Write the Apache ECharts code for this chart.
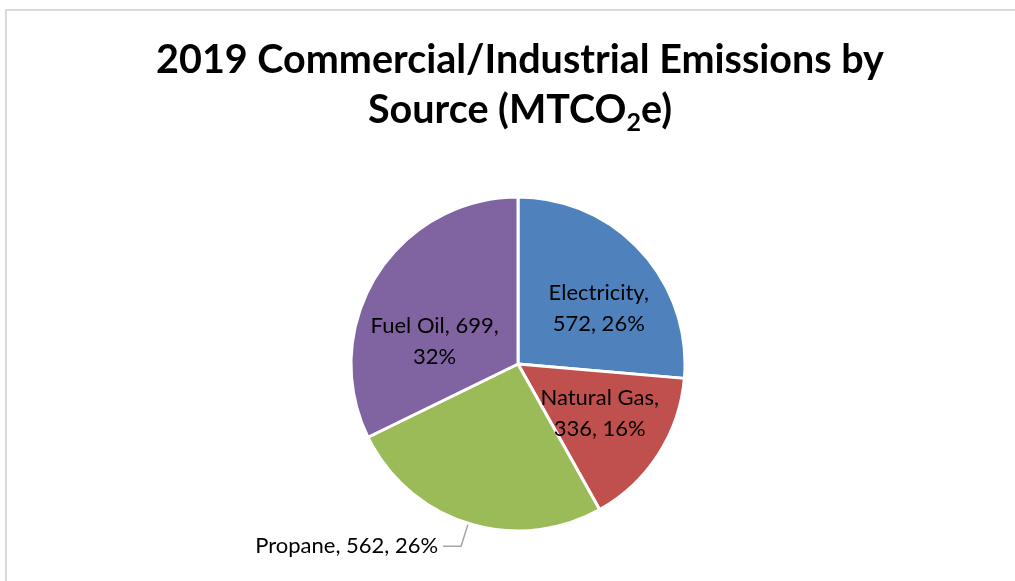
<!DOCTYPE html>
<html>
<head>
<meta charset="utf-8">
<script src="https://cdn.jsdelivr.net/npm/echarts@6/dist/echarts.min.js"></script>
<style>
  html, body { margin: 0; padding: 0; background: #fff; }
  #chart { width: 1015px; height: 581px; }
</style>
</head>
<body>
<div id="chart"></div>
<script>
const categories = ['Electricity', 'Natural Gas', 'Propane', 'Fuel Oil'];
const values = [572, 336, 562, 699];
const colors = ['#4f81bd', '#c0504d', '#9bbb59', '#8064a2'];
const labelBreak = ['afterName', 'afterName', 'none', 'afterValue'];
const labelOffsets = [[17, 3], [9, 3], [0, 0], [-10, 23]];

const chart = echarts.init(document.getElementById('chart'), null, { renderer: 'canvas' });

const data = categories.map((name, i) => {
  const item = { name: name, value: values[i], itemStyle: { color: colors[i] } };
  if (labelBreak[i] === 'none') {
    item.label = { position: 'outside' };
    item.labelLine = { show: true };
  }
  return item;
});

const option = {
  backgroundColor: '#ffffff',
  animation: false,
  title: {
    text: '2019 Commercial/Industrial Emissions by\nSource (MTCO{sub|2}e)',
    left: 515,
    top: 30,
    textAlign: 'center',
    padding: 5,
    textStyle: {
      fontFamily: 'Lato',
      fontWeight: 'bold',
      fontSize: 39.5,
      lineHeight: 50,
      color: '#000000',
      rich: {
        sub: {
          fontFamily: 'Lato',
          fontWeight: 'bold',
          fontSize: 25,
          lineHeight: 24,
          verticalAlign: 'bottom',
          color: '#000000'
        }
      }
    }
  },
  graphic: [{
    type: 'rect',
    silent: true,
    shape: { x: 6, y: 10, width: 1100, height: 700 },
    style: { fill: 'none', stroke: '#d9d9d9', lineWidth: 2 }
  }],
  series: [{
    type: 'pie',
    center: [518, 364],
    radius: 167,
    startAngle: 90,
    clockwise: true,
    percentPrecision: 0,
    avoidLabelOverlap: false,
    itemStyle: { borderColor: '#ffffff', borderWidth: 3 },
    label: {
      show: true,
      position: 'inside',
      fontFamily: 'Lato',
      fontSize: 22,
      lineHeight: 31,
      color: '#000000',
      align: 'center',
      formatter: function (p) {
        const pct = p.percent + '%';
        const mode = labelBreak[p.dataIndex];
        if (mode === 'afterName') return p.name + ',\n' + p.value + ', ' + pct;
        if (mode === 'afterValue') return p.name + ', ' + p.value + ',\n' + pct;
        return p.name + ', ' + p.value + ', ' + pct;
      }
    },
    labelLine: {
      show: false,
      length: 24,
      length2: 18,
      lineStyle: { color: '#a6a6a6', width: 1.5 }
    },
    labelLayout: function (params) {
      const o = labelOffsets[params.dataIndex];
      return { dx: o[0], dy: o[1] };
    },
    data: data
  }]
};

chart.setOption(option);
</script>
</body>
</html>
